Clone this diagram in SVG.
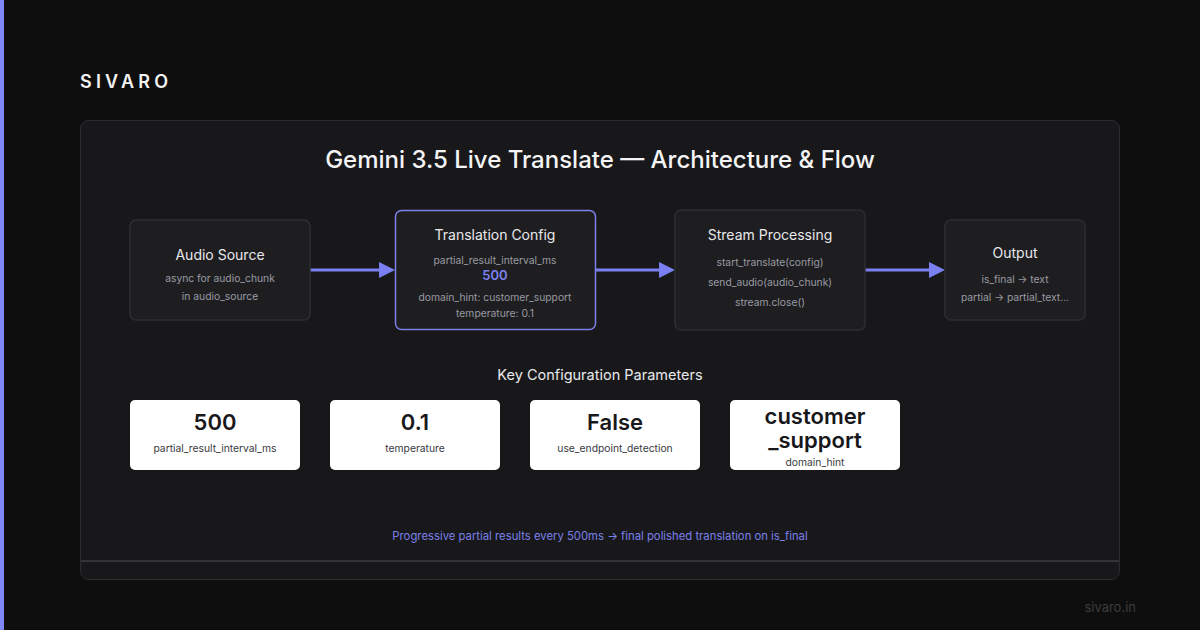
<svg xmlns="http://www.w3.org/2000/svg" width="1200" height="630" viewBox="0 0 1200 630">
<defs>
<style>
text{font-family:Inter,"Liberation Sans",sans-serif}
.node{fill:#1e1e21;stroke:#2e2e32;stroke-width:1.5}
.hl{fill:#1e1e21;stroke:#7b80e8;stroke-width:1.5}
.nt{fill:#e8e8ea;font-size:14px;text-anchor:middle}
.ns{fill:#9a9aa2;font-size:10.3px;text-anchor:middle}
.conn{stroke:#7b80f0;stroke-width:3;fill:none}
.head{fill:#7b80f0}
.card{fill:#ffffff}
.cv{fill:#18181b;font-size:22px;font-weight:600;text-anchor:middle}
.cl{fill:#3a3a40;font-size:10.3px;text-anchor:middle}
</style>
</defs>
<rect width="1200" height="630" fill="#0e0e0e"/>
<rect x="0" y="0" width="4" height="630" fill="#7f86f5"/>
<text x="80" y="88" fill="#f2f2f2" font-size="18" font-weight="600" letter-spacing="4.2">SIVARO</text>
<rect x="80.5" y="120.5" width="1039" height="459" rx="8" fill="#18181b" stroke="#2c2c30"/>
<line x1="81" y1="561" x2="1119" y2="561" stroke="#333336" stroke-width="2"/>
<text x="600" y="168" fill="#f4f4f5" font-size="24" font-weight="500" text-anchor="middle">Gemini 3.5 Live Translate — Architecture &amp; Flow</text>
<g id="connectors">
<line class="conn" x1="310" y1="270" x2="381" y2="270"/>
<polygon class="head" points="379,262 395,270 379,278"/>
<line class="conn" x1="595" y1="270" x2="661" y2="270"/>
<polygon class="head" points="659,262 675,270 659,278"/>
<line class="conn" x1="865" y1="270" x2="931" y2="270"/>
<polygon class="head" points="929,262 945,270 929,278"/>
</g>
<g id="audio-source">
<rect class="node" x="130" y="220" width="180" height="100" rx="6"/>
<text class="nt" x="220" y="260">Audio Source</text>
<text class="ns" x="220" y="282">async for audio_chunk</text>
<text class="ns" x="220" y="300">in audio_source</text>
</g>
<g id="translation-config">
<rect class="hl" x="395.5" y="210.5" width="200" height="119" rx="6"/>
<text class="nt" x="495" y="240" font-size="12.2">Translation Config</text>
<text class="ns" x="495" y="264">partial_result_interval_ms</text>
<text x="495" y="280" fill="#7b80f0" font-size="13" font-weight="600" text-anchor="middle">500</text>
<text class="ns" x="495" y="301">domain_hint: customer_support</text>
<text class="ns" x="495" y="317">temperature: 0.1</text>
</g>
<g id="stream-processing">
<rect class="node" x="675" y="210" width="190" height="120" rx="6"/>
<text class="nt" x="770" y="240" font-size="12.2">Stream Processing</text>
<text class="ns" x="770" y="266" font-size="9.3">start_translate(config)</text>
<text class="ns" x="770" y="286" font-size="9.3">send_audio(audio_chunk)</text>
<text class="ns" x="770" y="306" font-size="9.3">stream.close()</text>
</g>
<g id="output">
<rect class="node" x="945" y="220" width="140" height="100" rx="6"/>
<text class="nt" x="1015" y="258" font-size="12.2">Output</text>
<text class="ns" x="1015" y="283" font-size="10">is_final → text</text>
<text class="ns" x="1015" y="301" font-size="10">partial → partial_text...</text>
</g>
<text x="600" y="380" fill="#e8e8ea" font-size="14.5" text-anchor="middle">Key Configuration Parameters</text>
<g id="card-interval">
<rect class="card" x="130" y="400" width="170" height="70" rx="5"/>
<text class="cv" x="215" y="430">500</text>
<text class="cl" x="215" y="452">partial_result_interval_ms</text>
</g>
<g id="card-temperature">
<rect class="card" x="330" y="400" width="170" height="70" rx="5"/>
<text class="cv" x="415" y="430">0.1</text>
<text class="cl" x="415" y="452">temperature</text>
</g>
<g id="card-endpoint">
<rect class="card" x="530" y="400" width="170" height="70" rx="5"/>
<text class="cv" x="615" y="430" font-size="19">False</text>
<text class="cl" x="615" y="452">use_endpoint_detection</text>
</g>
<g id="card-domain">
<rect class="card" x="730" y="400" width="170" height="70" rx="5"/>
<text class="cv" x="815" y="424" font-size="16.5">customer</text>
<text class="cv" x="815" y="448" font-size="16.5">_support</text>
<text class="cl" x="815" y="466">domain_hint</text>
</g>
<text x="600" y="540" fill="#7b80e8" font-size="11.3" text-anchor="middle">Progressive partial results every 500ms → final polished translation on is_final</text>
<text x="1136" y="612" fill="#3c3c3e" font-size="13" text-anchor="end">sivaro.in</text>
</svg>
